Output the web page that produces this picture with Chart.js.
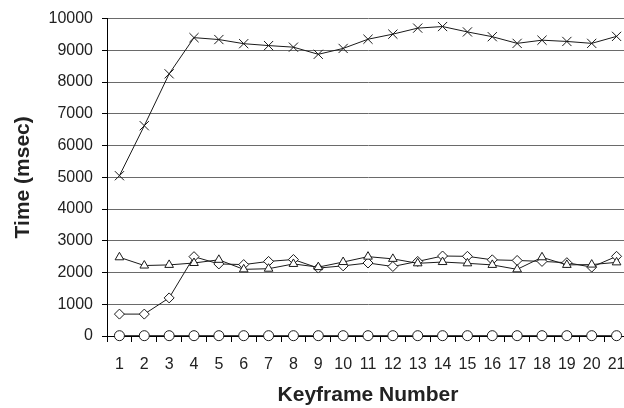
<!DOCTYPE html>
<html>
<head>
<meta charset="utf-8">
<script src="https://cdn.jsdelivr.net/npm/chart.js@4/dist/chart.umd.min.js"></script>
<style>
html,body{margin:0;padding:0;background:#fff;overflow:hidden;width:624px;height:408px;}
canvas{display:block;}
</style>
</head>
<body>
<canvas id="c" width="640" height="408"></canvas>
<script>
const keyframes = ['1','2','3','4','5','6','7','8','9','10','11','12','13','14','15','16','17','18','19','20','21'];
const crossSeries = [5050,6625,8260,9400,9340,9210,9150,9100,8875,9060,9350,9510,9700,9750,9580,9430,9220,9320,9280,9220,9440];
const triangleSeries = [2480,2220,2240,2300,2400,2100,2120,2270,2170,2330,2500,2430,2290,2330,2290,2240,2100,2480,2240,2250,2320];
const diamondSeries = [690,690,1200,2500,2270,2250,2350,2410,2140,2210,2300,2190,2350,2520,2510,2400,2380,2350,2310,2170,2510];
const circleSeries = [10,10,10,10,10,10,10,10,10,10,10,10,10,10,10,10,10,10,10,10,10];
const yTicks = [0,1000,2000,3000,4000,5000,6000,7000,8000,9000,10000];

const FONT = "'Liberation Sans', Arial, sans-serif";
const ink = '#1a1a1a';

function ds(data, style, r) {
  return {
    data: data,
    borderColor: ink,
    borderWidth: 1,
    pointStyle: style,
    pointRadius: r,
    pointHoverRadius: r,
    pointBackgroundColor: '#fff',
    pointBorderColor: ink,
    pointBorderWidth: 1,
    tension: 0,
    clip: false,
    fill: false
  };
}

new Chart(document.getElementById('c'), {
  type: 'line',
  data: {
    labels: keyframes,
    datasets: [
      ds(crossSeries, 'crossRot', 6.5),
      ds(triangleSeries, 'triangle', 5),
      ds(diamondSeries, 'rectRot', 5),
      ds(circleSeries, 'circle', 5)
    ]
  },
  options: {
    responsive: false,
    animation: false,
    devicePixelRatio: 1,
    events: [],
    layout: { padding: { top: 16, right: 11, left: 0, bottom: 0 } },
    plugins: { legend: { display: false }, tooltip: { enabled: false } },
    scales: {
      x: {
        type: 'category',
        offset: true,
        grid: { display: true, offset: true, drawOnChartArea: false, drawTicks: true, tickLength: 6, color: '#000', tickColor: '#000' },
        border: { display: true, color: '#000', width: 1 },
        ticks: { color: '#222', font: { family: FONT, size: 16 }, padding: 13, maxRotation: 0, autoSkip: false },
        title: { display: true, text: 'Keyframe Number', color: '#222', font: { family: FONT, size: 21, weight: 'bold' }, padding: { top: 0, bottom: 0 } },
        afterFit: function(s) { s.height = 72; }
      },
      y: {
        min: 0,
        max: 10000,
        afterBuildTicks: function(s) { s.ticks = yTicks.map(v => ({ value: v })); },
        grid: { color: '#6a6a6a', lineWidth: 1, drawTicks: true, tickLength: 5, tickColor: '#000' },
        border: { display: true, color: '#000', width: 1 },
        ticks: { color: '#222', font: { family: FONT, size: 16 }, padding: 9, callback: function(v) { return String(v); } },
        title: { display: true, text: 'Time (msec)', color: '#222', font: { family: FONT, size: 21, weight: 'bold' }, padding: { top: 11, bottom: 0 } },
        afterFit: function(s) { s.width = 107; }
      }
    }
  }
});
</script>
</body>
</html>
